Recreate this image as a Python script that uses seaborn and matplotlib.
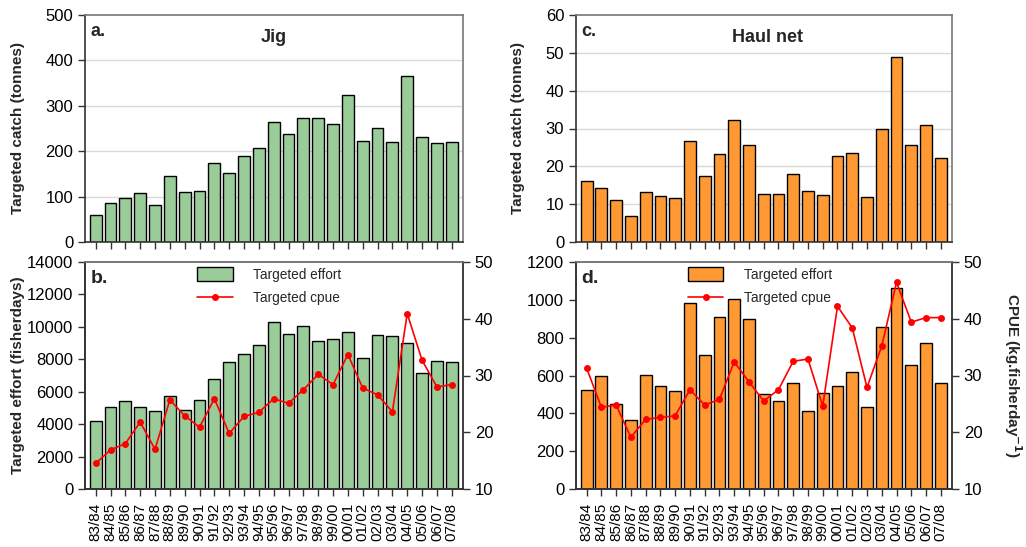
import numpy as np
import matplotlib
matplotlib.use("Agg")
import matplotlib.pyplot as plt
import seaborn as sns
from matplotlib.patches import Patch
from matplotlib.lines import Line2D

seasons = ["83/84", "84/85", "85/86", "86/87", "87/88", "88/89", "89/90", "90/91",
           "91/92", "92/93", "93/94", "94/95", "95/96", "96/97", "97/98", "98/99",
           "99/00", "00/01", "01/02", "02/03", "03/04", "04/05", "05/06", "06/07", "07/08"]

jig_catch = [60, 85, 96, 109, 81, 146, 111, 113, 174, 153, 189, 207, 264, 238, 274,
             273, 260, 323, 222, 251, 221, 365, 231, 218, 221]
jig_effort = [4200, 5050, 5400, 5050, 4800, 5730, 4890, 5460, 6760, 7810, 8350, 8890,
              10300, 9590, 10040, 9130, 9260, 9690, 8080, 9500, 9460, 9010, 7130, 7900, 7860]
jig_cpue = [14.5, 16.9, 18.0, 21.8, 17.0, 25.7, 22.9, 20.9, 25.9, 19.8, 22.8, 23.5,
            25.9, 25.1, 27.5, 30.2, 28.4, 33.7, 27.8, 26.6, 23.6, 40.9, 32.7, 28.0, 28.4]

haul_catch = [16.2, 14.3, 11.0, 6.9, 13.2, 12.1, 11.7, 26.6, 17.4, 23.3, 32.2, 25.7,
              12.7, 12.6, 18.1, 13.4, 12.4, 22.7, 23.6, 11.9, 29.8, 48.9, 25.6, 30.9, 22.2]
haul_effort = [525, 597, 449, 364, 601, 544, 519, 981, 710, 910, 1002, 899, 502, 463,
               562, 412, 509, 544, 618, 433, 857, 1064, 655, 774, 558]
haul_cpue = [31.3, 24.4, 24.8, 19.1, 22.3, 22.6, 22.9, 27.5, 24.8, 25.8, 32.4, 28.9,
             25.5, 27.5, 32.5, 32.9, 24.6, 42.2, 38.4, 27.9, 35.2, 46.4, 39.4, 40.2, 40.2]

GREEN = "#99cc99"
ORANGE = "#ff9933"
RED = "#ff0000"

sns.set_theme(style="ticks")
plt.rcParams["font.family"] = ["Liberation Sans", "DejaVu Sans"]
plt.rcParams["axes.edgecolor"] = "#333333"
plt.rcParams["xtick.color"] = "#333333"
plt.rcParams["ytick.color"] = "#333333"
plt.rcParams["xtick.labelcolor"] = "black"
plt.rcParams["ytick.labelcolor"] = "black"

fig = plt.figure(figsize=(10.26, 5.47), dpi=100)

L1, R1 = 85 / 1026, 463 / 1026
L2, R2 = 576 / 1026, 952 / 1026
T1, B1 = 1 - 15 / 547, 1 - 242 / 547
T2, B2 = 1 - 262 / 547, 1 - 489 / 547

axa = fig.add_axes([L1, B1, R1 - L1, T1 - B1])
axb = fig.add_axes([L1, B2, R1 - L1, T2 - B2])
axc = fig.add_axes([L2, B1, R2 - L2, T1 - B1])
axd = fig.add_axes([L2, B2, R2 - L2, T2 - B2])

n = len(seasons)
xpos = np.arange(n)
TICK_FS = 12
LAB_FS = 11


def bars(ax, vals, color):
    sns.barplot(x=seasons, y=vals, ax=ax, color=color, edgecolor="black",
                linewidth=1.0, width=0.8, saturation=1)
    ax.set_xlim(-0.72, n - 1 + 0.76)
    ax.set_xlabel("")
    for s in ax.spines.values():
        s.set_linewidth(1.2)
    ax.spines["top"].set_color("#777777")
    ax.spines["right"].set_color("#777777")
    ax.tick_params(axis="both", direction="out", length=5, width=1, labelsize=TICK_FS)
    ax.tick_params(axis="x", pad=5)


def gridlines(ax, ticks):
    for t in ticks[1:-1]:
        ax.axhline(t, color="#d9d9d9", lw=1.0, zorder=0)
    ax.set_axisbelow(True)


# Panel a
bars(axa, jig_catch, GREEN)
axa.set_ylim(0, 500)
axa.set_yticks(range(0, 501, 100))
gridlines(axa, list(range(0, 501, 100)))
axa.set_xticks(xpos)
axa.set_xticklabels([])
axa.set_ylabel("Targeted catch (tonnes)", fontsize=LAB_FS, fontweight="bold")
axa.yaxis.set_label_coords(-0.16, 0.5)
axa.text(0.015, 0.965, "a.", transform=axa.transAxes, fontsize=13, fontweight="bold", va="top")
axa.text(0.5, 0.9, "Jig", transform=axa.transAxes, fontsize=13, fontweight="bold",
         ha="center", va="center")

# Panel c
bars(axc, haul_catch, ORANGE)
axc.set_ylim(0, 60)
axc.set_yticks(range(0, 61, 10))
gridlines(axc, list(range(0, 61, 10)))
axc.set_xticks(xpos)
axc.set_xticklabels([])
axc.set_ylabel("Targeted catch (tonnes)", fontsize=LAB_FS, fontweight="bold")
axc.yaxis.set_label_coords(-0.136, 0.5)
axc.text(0.015, 0.965, "c.", transform=axc.transAxes, fontsize=13, fontweight="bold", va="top")
axc.text(0.51, 0.9, "Haul net", transform=axc.transAxes, fontsize=13, fontweight="bold",
         ha="center", va="center")


def effort_panel(ax, effort, cpue, color, ymax, ystep, letter, ylabel, rlabel):
    bars(ax, effort, color)
    ax.set_ylim(0, ymax)
    ax.set_yticks(range(0, ymax + 1, ystep))
    ax.set_xticks(xpos)
    ax.set_xticklabels(seasons, rotation=90, fontsize=11)
    if ylabel:
        ax.set_ylabel(ylabel, fontsize=LAB_FS, fontweight="bold")
        ax.yaxis.set_label_coords(-0.16, 0.5)
    else:
        ax.set_ylabel("")
    ax.text(0.015, 0.965, letter, transform=ax.transAxes, fontsize=14, fontweight="bold", va="top")
    ax2 = ax.twinx()
    sns.lineplot(x=xpos, y=cpue, ax=ax2, color=RED, lw=1.2, marker="o",
                 markersize=5, markeredgecolor=RED, markeredgewidth=0)
    ax2.set_ylim(10, 50)
    ax2.set_yticks(range(10, 51, 10))
    ax2.set_xlim(-0.72, n - 1 + 0.76)
    ax2.tick_params(axis="y", direction="out", length=5, width=1, labelsize=TICK_FS)
    for s in ax2.spines.values():
        s.set_linewidth(1.2)
    ax2.spines["top"].set_color("#777777")
    if rlabel:
        ax2.set_ylabel(rlabel, fontsize=LAB_FS, fontweight="bold", rotation=270)
        ax2.yaxis.set_label_coords(1.19, 0.5)
    else:
        ax2.set_ylabel("")
    handles = [Patch(facecolor=color, edgecolor="black", linewidth=1.0),
               Line2D([0], [0], color=RED, lw=1.2, marker="o", markersize=4)]
    ax2.legend(handles, ["Targeted effort", "Targeted cpue"], loc="upper left",
               bbox_to_anchor=(0.265, 1.03), frameon=False, fontsize=9.8,
               handlelength=2.6, handleheight=1.2, handletextpad=1.5, labelspacing=0.65)
    return ax2


effort_panel(axb, jig_effort, jig_cpue, GREEN, 14000, 2000, "b.",
             "Targeted effort (fisherdays)", None)
effort_panel(axd, haul_effort, haul_cpue, ORANGE, 1200, 200, "d.",
             None, "CPUE (kg.fisherday$^{\\mathbf{-1}}$)")

fig.savefig("out.png", dpi=100)
